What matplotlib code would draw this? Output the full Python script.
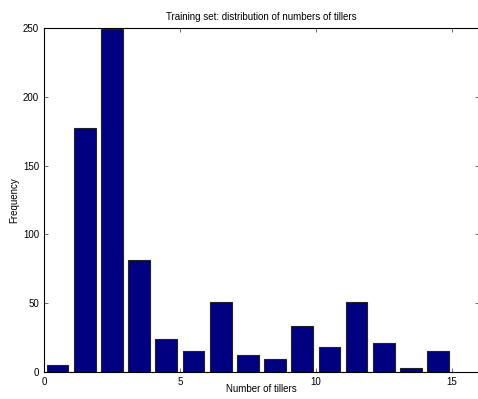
import matplotlib
matplotlib.use("Agg")
import matplotlib.pyplot as plt
import numpy as np

plt.rcParams["font.family"] = ["Liberation Sans", "DejaVu Sans"]

# histogram of tiller counts, bins centred on half-integers
bin_centers = np.arange(0.5, 15.0, 1.0)
counts = [5, 177, 249, 81, 24, 15, 51, 12, 9, 33, 18, 51, 21, 3, 15]

fig = plt.figure(figsize=(4.78, 3.99), dpi=100)
ax = fig.add_axes([0.092, 0.068, 0.91, 0.862])

ax.bar(bin_centers, counts, width=0.8, color="#000080",
       edgecolor="#222222", linewidth=0.8)

ax.set_xlim(0, 16)
ax.set_ylim(0, 250)
ax.set_xticks([0, 5, 10, 15])
ax.set_yticks(range(0, 251, 50))
ax.tick_params(direction="in", length=3, labelsize=7, top=True, right=True,
               width=0.5, color="#333333")
for s in ax.spines.values():
    s.set_linewidth(0.8)

ax.set_title("Training set: distribution of numbers of tillers", fontsize=7, pad=6)
ax.set_xlabel("Number of tillers", fontsize=7, labelpad=-2)
ax.set_ylabel("Frequency", fontsize=7, labelpad=3)

fig.savefig("out.png", dpi=100)
